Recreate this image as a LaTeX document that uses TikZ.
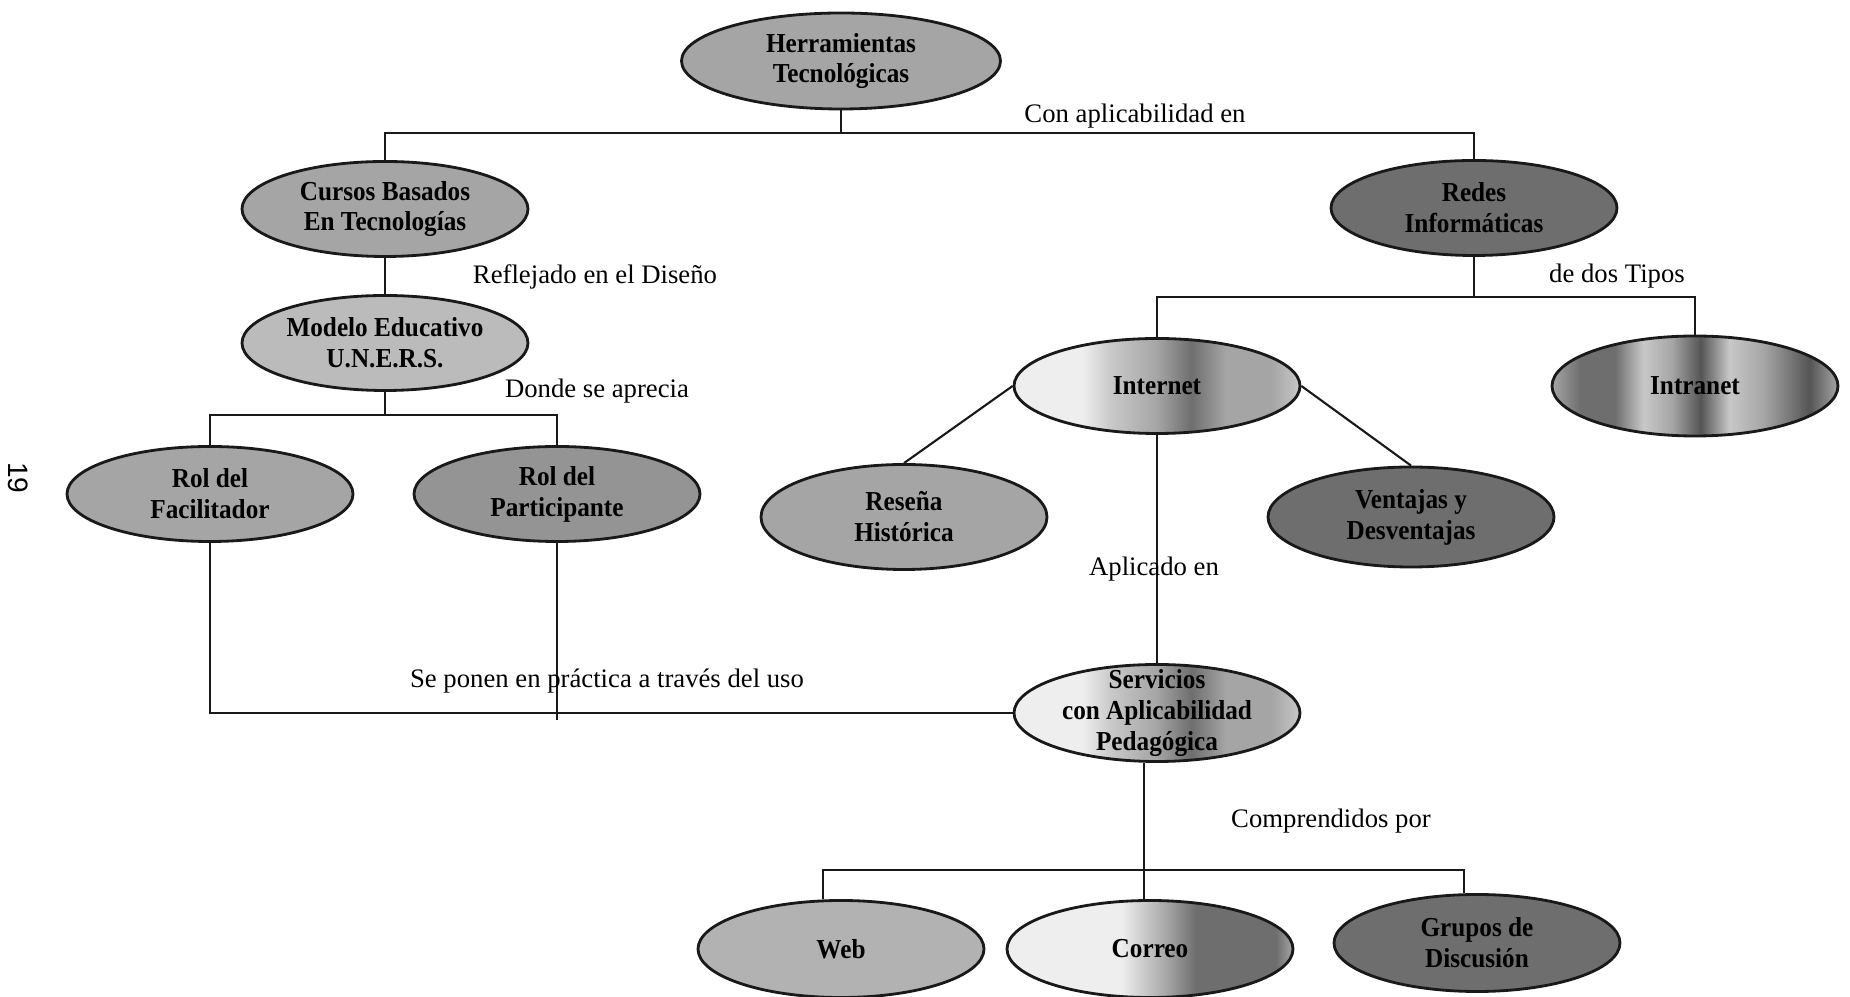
\documentclass[tikz,border=0pt]{standalone}
\usepackage{fontspec}
\usepackage{tikz}
\usepackage{xcolor}
\usetikzlibrary{shapes.geometric, positioning, calc}
\setmainfont{Liberation Serif}
\setsansfont{Liberation Sans}
\newfontfamily\conceptfont[FakeStretch=0.92]{Liberation Serif}
\definecolor{cmgray}{RGB}{165, 165, 165}
\definecolor{cdgray}{RGB}{110, 110, 110}
\definecolor{clgray}{RGB}{238, 238, 238}
\definecolor{cxgray}{RGB}{85, 85, 85}
\definecolor{cpgray}{RGB}{200, 200, 200}
\definecolor{cedge}{RGB}{25, 25, 25}
\pgfdeclarehorizontalshading{intranetshade}{100bp}{color(0bp)=(cmgray); color(25bp)=(cmgray); color(30bp)=(cdgray); color(36bp)=(cdgray); color(41bp)=(cpgray); color(46bp)=(cmgray); color(51bp)=(cxgray); color(56bp)=(cpgray); color(62bp)=(cmgray); color(70bp)=(cxgray); color(75bp)=(cmgray); color(100bp)=(cmgray)}
\pgfdeclarehorizontalshading{fadeshade}{100bp}{color(0bp)=(clgray); color(25bp)=(clgray); color(37bp)=(clgray); color(42bp)=(cpgray); color(50bp)=(cmgray); color(56bp)=(cdgray); color(62bp)=(cmgray); color(70bp)=(cmgray); color(75bp)=(cpgray); color(100bp)=(cpgray)}
\pgfdeclarehorizontalshading{mailshade}{100bp}{color(0bp)=(clgray); color(25bp)=(clgray); color(45bp)=(clgray); color(53bp)=(cmgray); color(58bp)=(cdgray); color(72bp)=(cdgray); color(75bp)=(cmgray); color(100bp)=(cmgray)}
\tikzset{
    concept/.style={ellipse, draw=cedge, line width=0.8pt, inner sep=0pt, minimum width=2.86cm, minimum height=0.95cm, align=center, font=\conceptfont\bfseries\fontsize{7.8}{8.8}\selectfont},
    midnode/.style={concept, fill=cmgray},
    darknode/.style={concept, fill=cdgray},
    fadenode/.style={concept, shade, shading=fadeshade},
    stripnode/.style={concept, shade, shading=intranetshade},
    link/.style={draw=cedge, line width=0.6pt},
    linklabel/.style={font=\fontsize{7.6}{9}\selectfont, inner sep=1pt}
}

\begin{document}
\begin{tikzpicture}[x=1cm, y=-1cm]
    \useasboundingbox (0,0) rectangle (18.5,9.97);

    % top of the map
    \node[midnode, minimum width=3.19cm, minimum height=0.96cm] (herr) at (8.41,0.61) {Herramientas\\Tecnológicas};
    \node[midnode] (cursos) at (3.85,2.09) {Cursos Basados\\En Tecnologías};
    \node[darknode] (redes) at (14.74,2.08) {Redes\\Informáticas};

    % left branch
    \node[midnode, fill=cmgray!75] (modelo) at (3.85,3.43) {Modelo Educativo\\U.N.E.R.S.};
    \node[midnode] (facil) at (2.10,4.94) {Rol del\\Facilitador};
    \node[midnode, fill=cmgray!90!black] (partic) at (5.57,4.94) {Rol del\\Participante};

    % right branch
    \node[fadenode] (internet) at (11.57,3.86) {Internet};
    \node[stripnode, minimum height=1.0cm] (intranet) at (16.95,3.86) {Intranet};
    \node[midnode, minimum height=1.05cm] (resena) at (9.04,5.17) {Reseña\\Histórica};
    \node[darknode, minimum height=1.0cm] (ventajas) at (14.11,5.17) {Ventajas y\\Desventajas};
    \node[fadenode, minimum height=0.97cm, inner ysep=-3pt] (serv) at (11.57,7.13) {Servicios\\con Aplicabilidad\\Pedagógica};

    % services
    \node[midnode, fill=cmgray!85, minimum height=0.97cm] (web) at (8.41,9.49) {Web};
    \node[concept, shade, shading=mailshade, minimum height=0.97cm] (correo) at (11.50,9.49) {Correo};
    \node[darknode, minimum height=0.97cm] (grupos) at (14.77,9.43) {Grupos de\\Discusión};

    % junctions of the branches
    \coordinate (hbar) at (8.41,1.33);
    \coordinate (mbar) at (3.85,4.15);
    \coordinate (rbar) at (14.74,2.97);
    \coordinate (sbar) at (11.44,8.70);
    \coordinate (pend) at (5.57,7.20);

    % connectors
    \draw[link] (herr.south) -- (hbar);
    \draw[link] (cursos.north) |- (hbar) -| (redes.north);
    \draw[link] (cursos) -- (modelo);
    \draw[link] (modelo.south) -- (mbar);
    \draw[link] (facil.north) |- (mbar) -| (partic.north);
    \draw[link] (redes.south) -- (rbar);
    \draw[link] (internet.north) |- (rbar) -| (intranet.north);
    \draw[link] (internet.west) -- (resena.north);
    \draw[link] (internet.east) -- (ventajas.north);
    \draw[link] (internet.south) -- (serv.north);
    \draw[link] (facil.south) |- (serv.west);
    \draw[link] (partic.south) -- (pend);
    \draw[link] (serv.south -| sbar) -- (sbar |- correo.north);
    \draw[link] (web.110) |- (sbar) -| (grupos.105);

    % labels on the links
    \node[linklabel] (lcon) at (11.35,1.16) {Con aplicabilidad en};
    \node[linklabel] (lrefl) at (5.95,2.77) {Reflejado en el Diseño};
    \node[linklabel] (ldonde) at (5.97,3.91) {Donde se aprecia};
    \node[linklabel] (ltipos) at (16.17,2.76) {de dos Tipos};
    \node[linklabel] (laplic) at (11.54,5.69) {Aplicado en};
    \node[linklabel] (lponen) at (6.07,6.81) {Se ponen en práctica a través del uso};
    \node[linklabel] (lcomp) at (13.31,8.21) {Comprendidos por};

    % page number
    \node[font=\sffamily\fontsize{8}{9}\selectfont, rotate=-90] (pnum) at (0.18,4.78) {19};
\end{tikzpicture}
\end{document}
